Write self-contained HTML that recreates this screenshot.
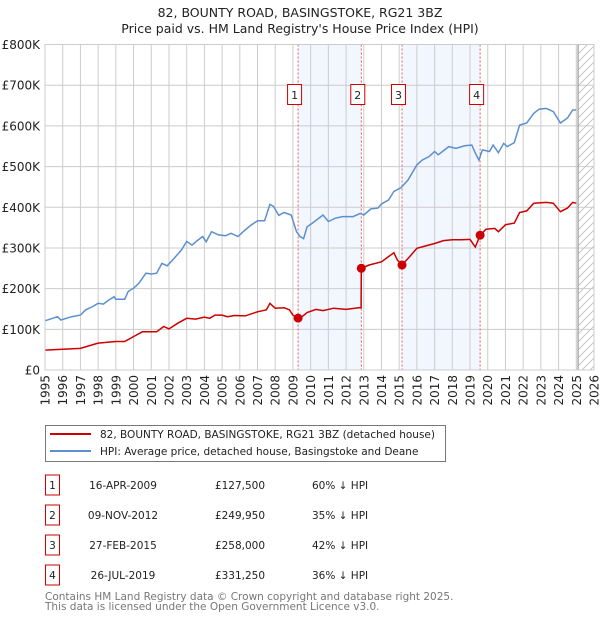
<!DOCTYPE html>
<html><head><meta charset="utf-8">
<style>
body{margin:0;background:#fff;font-family:"Liberation Sans","DejaVu Sans",sans-serif;}
#wrap{position:relative;width:600px;height:620px;overflow:hidden;}
svg text{font-family:"DejaVu Sans","Liberation Sans",sans-serif;}
</style></head>
<body><div id="wrap">
<svg id="chart" width="600" height="620"></svg>
</div>
<script>
const hpiYears=[1995,1995.7,1995.9,1996.5,1997,1997.3,1997.7,1998,1998.3,1998.6,1998.9,1999,1999.5,1999.7,2000,2000.3,2000.7,2001,2001.3,2001.6,2001.9,2002.3,2002.7,2003,2003.3,2003.6,2003.9,2004.1,2004.4,2004.8,2005.2,2005.5,2005.9,2006.3,2006.6,2007,2007.4,2007.7,2007.9,2008.2,2008.5,2008.9,2009.2,2009.4,2009.6,2009.8,2010.1,2010.7,2011,2011.4,2011.8,2012.4,2012.8,2013,2013.4,2013.8,2014,2014.4,2014.7,2015.1,2015.5,2016,2016.3,2016.7,2017,2017.2,2017.8,2018.2,2018.7,2019.1,2019.3,2019.5,2019.7,2020.1,2020.3,2020.6,2020.9,2021.1,2021.5,2021.8,2022.2,2022.6,2022.9,2023.3,2023.7,2024.1,2024.5,2024.8,2025];
const hpiValues=[121,131,123,131,135,148,156,164,162,172,180,174,174,193,201,213,238,236,238,262,256,275,295,316,307,318,328,315,340,332,330,336,328,344,355,367,367,407,402,380,387,381,340,328,323,352,361,381,365,373,377,377,385,381,396,398,408,418,439,448,467,504,516,525,537,529,549,545,551,553,533,516,541,537,553,534,557,549,559,602,607,631,641,643,635,607,619,639,639];
const ppYears=[1995,1996,1997,1998,1999,1999.5,2000,2000.5,2001.3,2001.7,2002,2002.5,2003,2003.5,2004,2004.3,2004.6,2005,2005.3,2005.7,2006.3,2007,2007.5,2007.7,2008,2008.5,2008.8,2009,2009.29,2009.4,2009.8,2010.3,2010.7,2011.3,2012,2012.7,2012.85,2012.86,2013.3,2014,2014.4,2014.7,2014.9,2015.16,2015.6,2016,2016.5,2017,2017.5,2018,2018.5,2019,2019.3,2019.57,2019.9,2020.4,2020.6,2021,2021.5,2021.8,2022.2,2022.6,2023.3,2023.7,2024.1,2024.5,2024.8,2025];
const ppValues=[49,51,53,66,70,70,82,94,94,107,101,115,127,125,130,127,135,135,131,134,133,143,148,164,152,153,148,135,127.5,127,141,149,146,152,149,153,153,250,258,266,279,288,270,258,279,299,305,311,318,320,320,321,302,331,346,348,340,357,361,387,391,410,412,410,389,398,412,410];
const saleYears=[2009.29,2012.86,2015.16,2019.57];
const saleValues=[127.5,249.95,258,331.25];
const saleLabels=["1","2","3","4"];
const yTicks=[0,100,200,300,400,500,600,700,800];
const yTickLabels=["£0","£100K","£200K","£300K","£400K","£500K","£600K","£700K","£800K"];
const xTicks=[1995,1996,1997,1998,1999,2000,2001,2002,2003,2004,2005,2006,2007,2008,2009,2010,2011,2012,2013,2014,2015,2016,2017,2018,2019,2020,2021,2022,2023,2024,2025,2026];

const L=45,R=594,T=44.5,B=370;
const X=y=>L+(y-1995)/(2026-1995)*(R-L);
const Y=v=>B-v/800*(B-T);
const NS="http://www.w3.org/2000/svg";
const svg=document.getElementById('chart');
function mk(tag,attrs,parent){const e=document.createElementNS(NS,tag);for(const k in attrs)e.setAttribute(k,attrs[k]);(parent||svg).appendChild(e);return e;}

let t=mk('text',{x:300,y:17,'text-anchor':'middle','font-size':12.5,fill:'#222'});t.textContent="82, BOUNTY ROAD, BASINGSTOKE, RG21 3BZ";


t=mk('text',{x:300,y:33,'text-anchor':'middle','font-size':12.5,fill:'#222'});t.textContent="Price paid vs. HM Land Registry's House Price Index (HPI)";



[[0,1],[2,3]].forEach(p=>{const r=mk('rect',{x:X(saleYears[p[0]]),y:T,width:X(saleYears[p[1]])-X(saleYears[p[0]]),height:B-T,fill:'#f2f6fe'});

});

const defs=mk('defs',{});
const pat=mk('pattern',{id:'hatch',width:8,height:8,patternUnits:'userSpaceOnUse'},defs);
mk('path',{d:'M0,8 L8,0 M-2,2 L2,-2 M6,10 L10,6',stroke:'#bbb','stroke-width':0.8},pat);
const hx=X(2025.1);
let hr=mk('rect',{x:hx,y:T,width:R-hx,height:B-T,fill:'url(#hatch)'});



yTicks.forEach((v,i)=>{const g=mk('line',{x1:L,x2:R,y1:Y(v),y2:Y(v),stroke:'#ccc','stroke-width':1});


const tx=mk('text',{x:40,y:Y(v)+4.5,'text-anchor':'end','font-size':12,fill:'#222'});tx.textContent=yTickLabels[i];

});
xTicks.forEach(yr=>{const g=mk('line',{x1:X(yr),x2:X(yr),y1:T,y2:B,stroke:'#ccc','stroke-width':1});


const tx=mk('text',{x:0,y:0,'text-anchor':'end','font-size':12,fill:'#222',transform:`translate(${X(yr)+4.5},375) rotate(-90)`});tx.textContent=yr;

});
mk('line',{x1:hx,x2:hx,y1:T,y2:B,stroke:'#999','stroke-width':1.2});

saleYears.forEach((yr,i)=>{const l=mk('line',{x1:X(yr),x2:X(yr),y1:T,y2:B,stroke:'#e06060','stroke-width':1,'stroke-dasharray':'2,2'});


const bx=X(yr)-10.5;
const r=mk('rect',{x:bx,y:84.5,width:14,height:20,fill:'#fff',stroke:'#c00','stroke-width':1});


const tx=mk('text',{x:bx+7,y:99,'text-anchor':'middle','font-size':11,fill:'#222'});tx.textContent=saleLabels[i];

});

function pts(xs,vs){return xs.map((x,i)=>X(x).toFixed(1)+','+Y(vs[i]).toFixed(1)).join(' ');}
let hl=mk('polyline',{points:pts(hpiYears,hpiValues),fill:'none',stroke:'#5b8fd0','stroke-width':1.5});


let pl=mk('polyline',{points:pts(ppYears,ppValues),fill:'none',stroke:'#cc0000','stroke-width':1.5});


saleYears.forEach((yr,i)=>{const c=mk('circle',{cx:X(yr),cy:Y(saleValues[i]),r:4.5,fill:'#cc0000'});

});

mk('rect',{x:L,y:T,width:R-L,height:B-T,fill:'none',stroke:'#ccc','stroke-width':1});

let lg=mk('rect',{x:45.5,y:425.5,width:400,height:36,fill:'#fff',stroke:'#777','stroke-width':1});


mk('line',{x1:50,x2:91,y1:434,y2:434,stroke:'#cc0000','stroke-width':2});
mk('line',{x1:50,x2:91,y1:451,y2:451,stroke:'#5b8fd0','stroke-width':2});
t=mk('text',{x:100,y:438,'font-size':10.5,fill:'#222'});t.textContent="82, BOUNTY ROAD, BASINGSTOKE, RG21 3BZ (detached house)";


t=mk('text',{x:100,y:455,'font-size':10.5,fill:'#222'});t.textContent="HPI: Average price, detached house, Basingstoke and Deane";



const rowDates=["16-APR-2009","09-NOV-2012","27-FEB-2015","26-JUL-2019"];
const rowPrices=["£127,500","£249,950","£258,000","£331,250"];
const rowPcts=["60% ↓ HPI","35% ↓ HPI","42% ↓ HPI","36% ↓ HPI"];
rowDates.forEach((d,i)=>{const cy=485+i*30;
const r=mk('rect',{x:45.5,y:cy-10,width:14,height:20,fill:'#fff',stroke:'#c00','stroke-width':1});


let a=mk('text',{x:52.5,y:cy+4,'text-anchor':'middle','font-size':10.5,fill:'#222'});a.textContent=saleLabels[i];
a=mk('text',{x:123,y:cy+4,'text-anchor':'middle','font-size':10.5,fill:'#222'});a.textContent=d;


a=mk('text',{x:240,y:cy+4,'text-anchor':'middle','font-size':10.5,fill:'#222'});a.textContent=rowPrices[i];


a=mk('text',{x:312,y:cy+4,'font-size':10.5,fill:'#222'});a.textContent=rowPcts[i];

});

t=mk('text',{x:45,y:600,'font-size':10.5,fill:'#777'});t.textContent="Contains HM Land Registry data © Crown copyright and database right 2025.";


t=mk('text',{x:45,y:610,'font-size':10.5,fill:'#777'});t.textContent="This data is licensed under the Open Government Licence v3.0.";


</script>
</body></html>
